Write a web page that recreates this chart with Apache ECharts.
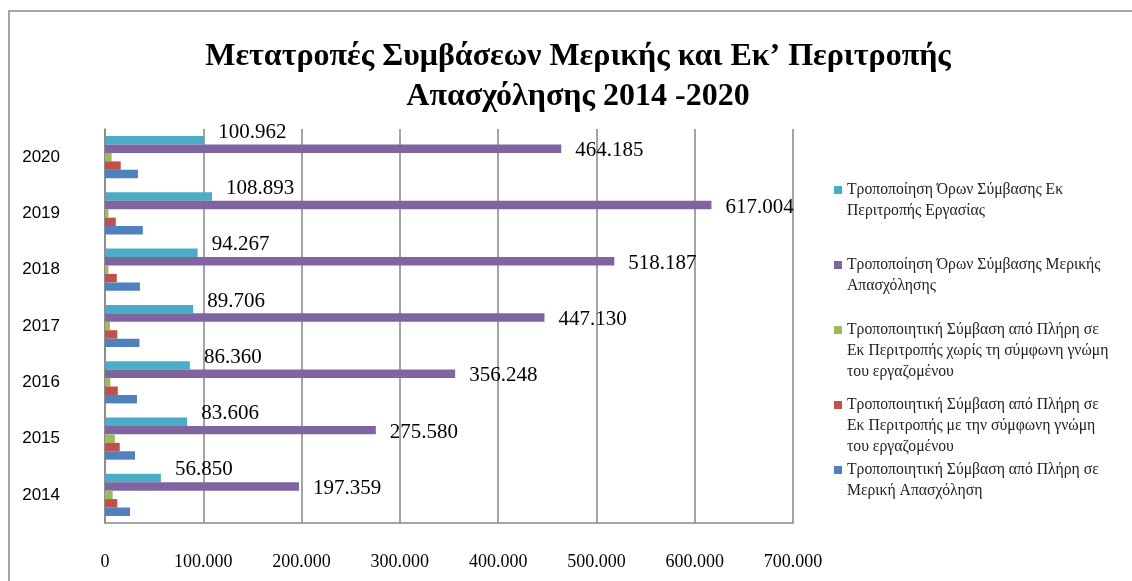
<!DOCTYPE html>
<html>
<head>
<meta charset="utf-8">
<script src="https://cdn.jsdelivr.net/npm/echarts@6/dist/echarts.min.js"></script>
<style>
  html, body { margin: 0; padding: 0; background: #fff; }
  #main { width: 1132px; height: 581px; }
</style>
</head>
<body>
<div id="main"></div>
<script>
// έτη (κατηγορίες)
var years = ['2014', '2015', '2016', '2017', '2018', '2019', '2020'];

// ονόματα σειρών
var nameBlue = 'Τροποποιητική Σύμβαση από Πλήρη σε\nΜερική Απασχόληση';
var nameRed = 'Τροποποιητική Σύμβαση από Πλήρη σε\nΕκ Περιτροπής με την σύμφωνη γνώμη\nτου εργαζομένου';
var nameGreen = 'Τροποποιητική Σύμβαση από Πλήρη σε\nΕκ Περιτροπής χωρίς τη σύμφωνη γνώμη\nτου εργαζομένου';
var namePurple = 'Τροποποίηση Όρων Σύμβασης Μερικής\nΑπασχόλησης';
var nameCyan = 'Τροποποίηση Όρων Σύμβασης Εκ\nΠεριτροπής Εργασίας';

// τιμές
var blueVals = [25500, 30500, 32500, 35000, 35500, 38500, 33500];
var redVals = [12500, 15000, 13000, 12500, 12000, 11000, 16000];
var greenVals = [7800, 10000, 5500, 5000, 3500, 3500, 6800];
var purpleVals = [197359, 275580, 356248, 447130, 518187, 617004, 464185];
var cyanVals = [56850, 83606, 86360, 89706, 94267, 108893, 100962];

function fmt(v) {
  return String(v).replace(/\B(?=(\d{3})+(?!\d))/g, '.');
}

var myChart = echarts.init(document.getElementById('main'));

var serif = '"Liberation Serif", "Times New Roman", serif';
var LH = 21;

// το τετραγωνάκι στο ύψος της πρώτης γραμμής του κειμένου
function legendAt(name, firstLine, lines) {
  var h = lines * LH;
  var y0 = LH / 2 - 4;
  var icon = 'path://M0,0L0.1,0L0.1,0.1Z M0,' + y0 + 'L8,' + y0 + 'L8,' + (y0 + 8) + 'L0,' + (y0 + 8) + 'Z M0,' + (h - 0.1) + 'L0.1,' + (h - 0.1) + 'L0.1,' + h + 'Z';
  return {
    data: [{ name: name, icon: icon }],
    orient: 'vertical',
    left: 834,
    top: firstLine - LH / 2,
    padding: 0,
    itemWidth: 8,
    itemHeight: h,
    selectedMode: false,
    textStyle: {
      fontFamily: serif,
      fontSize: 15.7,
      color: '#222',
      lineHeight: LH
    }
  };
}

var barLabel = function (dy) {
  return {
    show: true,
    position: 'right',
    distance: 14,
    offset: [0, dy],
    fontFamily: serif,
    fontSize: 21,
    color: '#000',
    formatter: function (p) { return fmt(p.value); }
  };
};

var option = {
  animation: false,
  backgroundColor: '#fff',
  title: {
    text: 'Μετατροπές Συμβάσεων Μερικής και Εκ’ Περιτροπής\nΑπασχόλησης 2014 -2020',
    left: 573,
    textAlign: 'center',
    top: 32,
    textStyle: {
      fontFamily: serif,
      fontWeight: 'bold',
      fontSize: 32,
      lineHeight: 40,
      color: '#000'
    }
  },
  graphic: [{
    type: 'rect',
    shape: { x: 9, y: 11, width: 1200, height: 700 },
    style: { fill: 'none', stroke: '#a6a6a6', lineWidth: 2 },
    silent: true
  }],
  legend: [
    legendAt(nameCyan, 190, 2),
    legendAt(namePurple, 265, 2),
    legendAt(nameGreen, 330, 3),
    legendAt(nameRed, 405, 3),
    legendAt(nameBlue, 470, 2)
  ],
  grid: { left: 105, right: 339, top: 129, bottom: 58 },
  xAxis: {
    type: 'value',
    min: 0,
    max: 700000,
    interval: 100000,
    axisLine: { show: true, lineStyle: { color: '#868686', width: 1.5 } },
    axisTick: { show: false },
    splitLine: { show: true, lineStyle: { color: '#868686', width: 1.5 } },
    axisLabel: {
      margin: 30,
      fontFamily: serif,
      fontSize: 18,
      color: '#000',
      formatter: function (v) { return fmt(v); }
    }
  },
  yAxis: {
    type: 'category',
    data: years,
    axisLine: { show: true, lineStyle: { color: '#868686', width: 1.5 } },
    axisTick: { show: false },
    axisLabel: {
      margin: 45,
      fontFamily: '"Liberation Sans", Arial, sans-serif',
      fontSize: 17,
      color: '#000'
    }
  },
  series: [
    { name: nameCyan, type: 'bar', data: cyanVals, itemStyle: { color: '#4bacc6' }, label: barLabel(-8), barGap: '0%', barCategoryGap: '25%' },
    { name: namePurple, type: 'bar', data: purpleVals, itemStyle: { color: '#8064a2' }, label: barLabel(2) },
    { name: nameGreen, type: 'bar', data: greenVals, itemStyle: { color: '#9bbb59' } },
    { name: nameRed, type: 'bar', data: redVals, itemStyle: { color: '#c0504d' } },
    { name: nameBlue, type: 'bar', data: blueVals, itemStyle: { color: '#4f81bd' } }
  ]
};

myChart.setOption(option);
</script>
</body>
</html>
